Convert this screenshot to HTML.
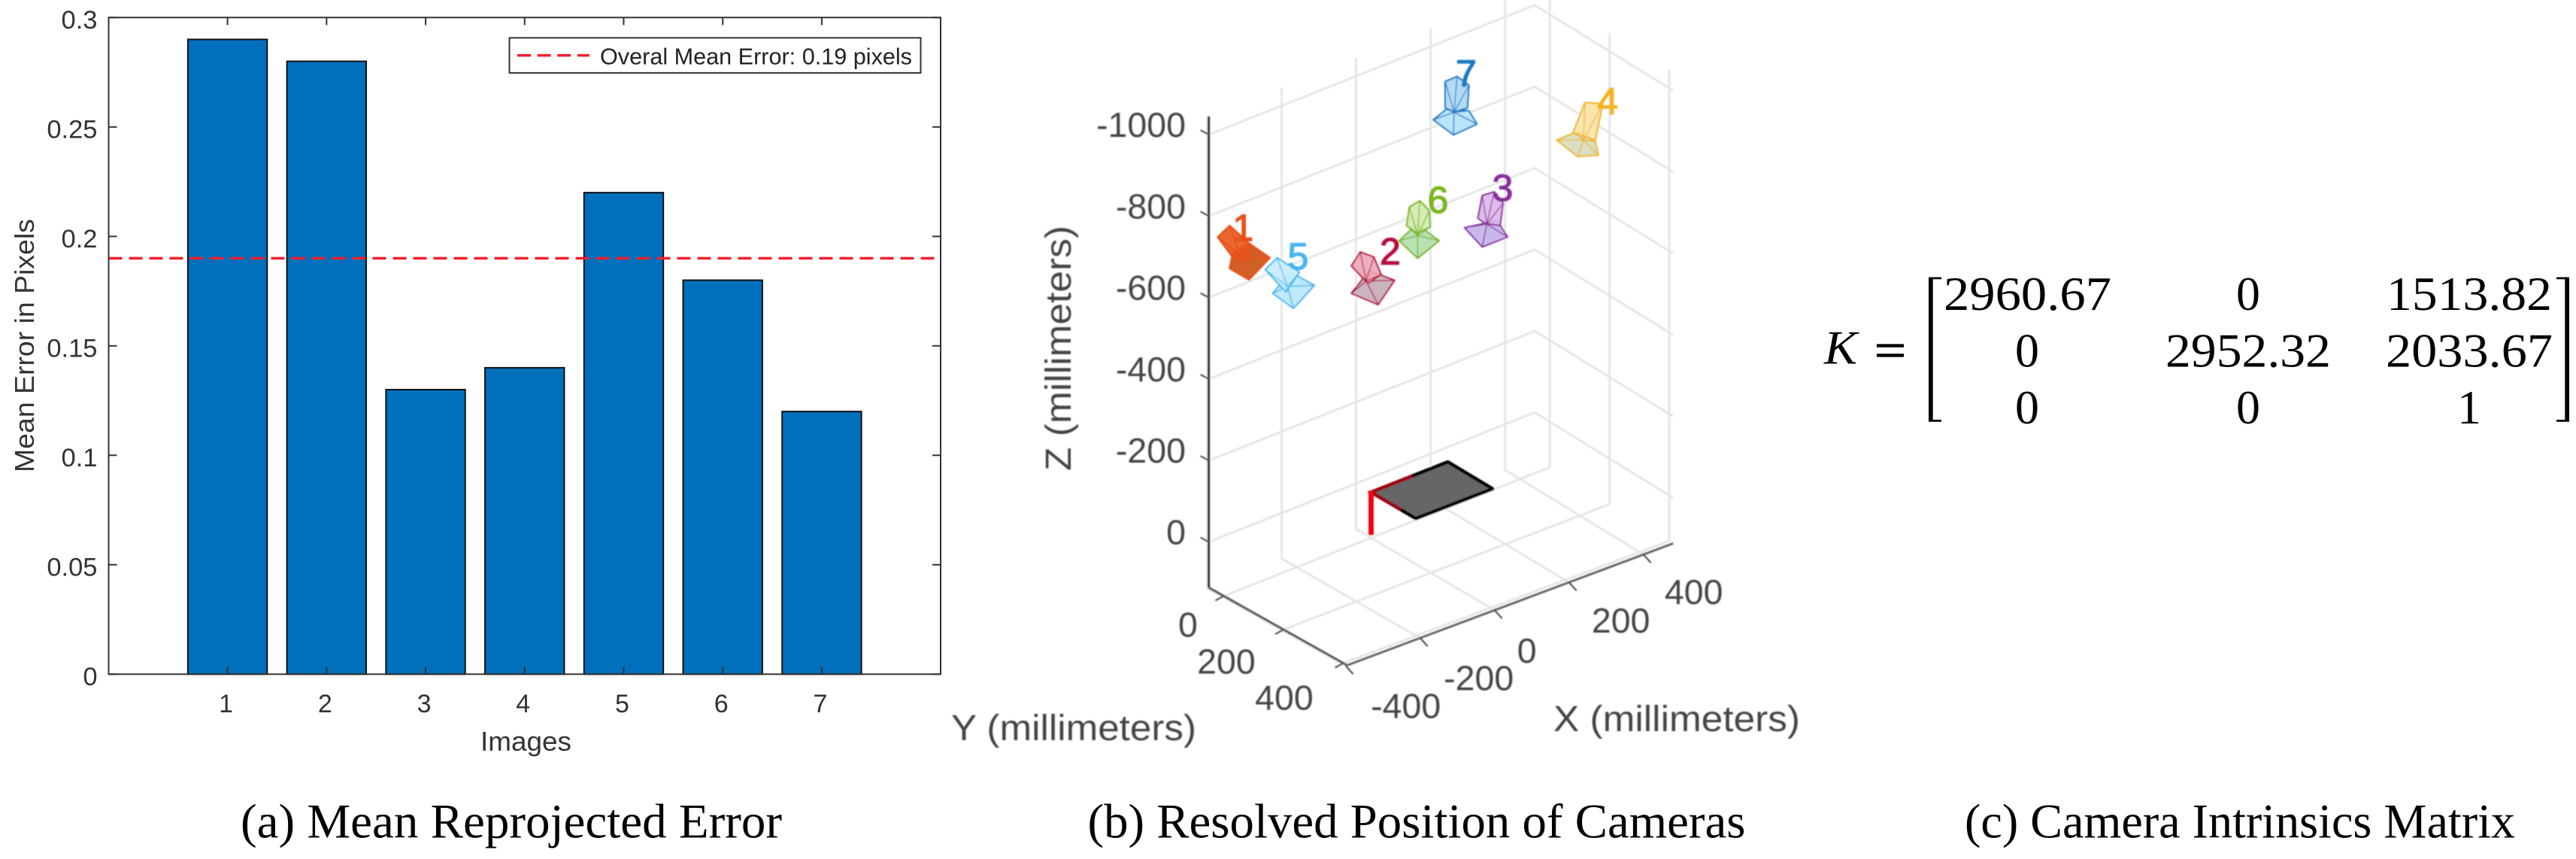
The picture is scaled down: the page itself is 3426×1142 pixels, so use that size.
<!DOCTYPE html>
<html lang="en">
<head>
<meta charset="utf-8">
<title>Camera calibration results</title>
<style>
html,body{margin:0;padding:0;background:#fff;}
body{width:3426px;height:1142px;overflow:hidden;}
svg{display:block;}
.sans{font-family:"Liberation Sans",Arial,sans-serif;}
.serif{font-family:"Liberation Serif","Times New Roman",serif;}
</style>
</head>
<body>
<svg id="figure" xmlns="http://www.w3.org/2000/svg" width="3426" height="1142" viewBox="0 0 3426 1142">
  <defs>
    <filter id="soft" filterUnits="userSpaceOnUse" x="1200" y="0" width="1300" height="1060"><feGaussianBlur stdDeviation="0.8"/></filter>
  </defs>
  <rect width="3426" height="1142" fill="#fff"/>
  <g id="bar-chart"></g>
  <g id="camera-chart" filter="url(#soft)"></g>

  <g class="serif" fill="#000" font-size="64">
    <text x="2426" y="483.5" font-style="italic" textLength="44" lengthAdjust="spacingAndGlyphs">K</text>
    <text x="2493" y="487" stroke="#000" stroke-width="1.2" textLength="42" lengthAdjust="spacingAndGlyphs">=</text>
    <path d="M2565 368.5H2582V371.2H2570.7V558H2582V560.8H2565Z" fill="#000"/>
    <path d="M3417 368.5H3400V371.2H3411.3V558H3400V560.8H3417Z" fill="#000"/>
    <text x="2585" y="412" textLength="223" lengthAdjust="spacingAndGlyphs">2960.67</text>
    <text x="2990" y="412" text-anchor="middle">0</text>
    <text x="3174" y="412" textLength="220" lengthAdjust="spacingAndGlyphs">1513.82</text>
    <text x="2696" y="487.5" text-anchor="middle">0</text>
    <text x="2880" y="487.5" textLength="220" lengthAdjust="spacingAndGlyphs">2952.32</text>
    <text x="3173" y="487.5" textLength="222" lengthAdjust="spacingAndGlyphs">2033.67</text>
    <text x="2696" y="563" text-anchor="middle">0</text>
    <text x="2990" y="563" text-anchor="middle">0</text>
    <text x="3284" y="563" text-anchor="middle">1</text>
  </g>

  <g class="serif" fill="#000" font-size="65">
    <text x="320" y="1113.5" textLength="720" lengthAdjust="spacingAndGlyphs">(a) Mean Reprojected Error</text>
    <text x="1446.5" y="1113.5" textLength="875" lengthAdjust="spacingAndGlyphs">(b) Resolved Position of Cameras</text>
    <text x="2613" y="1113.5" textLength="732" lengthAdjust="spacingAndGlyphs">(c) Camera Intrinsics Matrix</text>
  </g>
</svg>

<script>
// ---------- Bar chart data ----------
const imageCategories = ['1', '2', '3', '4', '5', '6', '7'];
const meanErrors = [0.29, 0.28, 0.13, 0.14, 0.22, 0.18, 0.12];
const overallMeanError = [0.19];
const errorTicks = [0, 0.05, 0.1, 0.15, 0.2, 0.25, 0.3];
const errorTickLabels = ['0', '0.05', '0.1', '0.15', '0.2', '0.25', '0.3'];

// ---------- 3D chart data (millimeters) ----------
const cameraLabels = ['1', '2', '3', '4', '5', '6', '7'];
const cameraX = [-344, -37.2, 266.7, 402, -260.6, 86.9, 182.8];
const cameraY = [0, 50, 50, 200, 50, 50, 50];
const cameraZ = [-710.6, -538.4, -561.9, -796.7, -627.6, -607.8, -869];
const xTicks3d = [-400, -200, 0, 200, 400];
const yTicks3d = [0, 200, 400];
const zTicks3d = [0, -200, -400, -600, -800, -1000];
const boardSizeX = [206];
const boardSizeY = [150];

const NS = 'http://www.w3.org/2000/svg';
function make(parent, tag, attrs, text) {
  const el = document.createElementNS(NS, tag);
  for (const k in attrs) el.setAttribute(k, attrs[k]);
  if (text !== undefined) el.textContent = text;
  parent.appendChild(el);
  return el;
}
function pts(list) { return list.map(p => p[0].toFixed(1) + ',' + p[1].toFixed(1)).join(' '); }

// ---------- Bar chart ----------
(function () {
  const root = document.getElementById('bar-chart');
  const L = 144.5, R = 1251, T = 23.3, B = 896.3;
  const xMin = -0.2, xMax = 8.2, yMin = 0, yMax = 0.3, barW = 0.8;
  const sx = v => L + (v - xMin) / (xMax - xMin) * (R - L);
  const sy = v => B - (v - yMin) / (yMax - yMin) * (B - T);

  meanErrors.forEach((v, i) => {
    const r = make(root, 'rect', {
      x: sx(i + 1 - barW / 2), y: sy(v),
      width: sx(barW) - sx(0), height: sy(0) - sy(v),
      fill: '#0070bd', stroke: '#111', 'stroke-width': 2
    });
    
    
  });

  const mean = make(root, 'line', {
    x1: L, x2: R, y1: sy(overallMeanError[0]), y2: sy(overallMeanError[0]),
    stroke: '#f3202e', 'stroke-width': 3.5, 'stroke-dasharray': '18 9'
  });
  
  

  const frame = make(root, 'rect', { x: L, y: T, width: R - L, height: B - T, fill: 'none', stroke: '#333', 'stroke-width': 2 });
  
  

  errorTicks.forEach((v, i) => {
    const y = sy(v);
    const t1 = make(root, 'line', { x1: L, x2: L + 11, y1: y, y2: y, stroke: '#333', 'stroke-width': 2 });
    
    
    const t2 = make(root, 'line', { x1: R - 11, x2: R, y1: y, y2: y, stroke: '#333', 'stroke-width': 2 });
    
    
    const lab = make(root, 'text', { x: 129.5, y: y + 14.5, 'text-anchor': 'end', class: 'sans', 'font-size': 34.5, fill: '#333' }, errorTickLabels[i]);
    
    
  });

  imageCategories.forEach((c, i) => {
    const x = sx(i + 1);
    const t1 = make(root, 'line', { x1: x, x2: x, y1: B, y2: B - 10, stroke: '#333', 'stroke-width': 2 });
    
    
    const t2 = make(root, 'line', { x1: x, x2: x, y1: T, y2: T + 10, stroke: '#333', 'stroke-width': 2 });
    
    
    const lab = make(root, 'text', { x: x - 2, y: 947, 'text-anchor': 'middle', class: 'sans', 'font-size': 34, fill: '#333' }, c);
    
    
  });

  const xt = make(root, 'text', { x: 639, y: 998, class: 'sans', 'font-size': 36, fill: '#333', textLength: 121, lengthAdjust: 'spacingAndGlyphs' }, 'Images');
  
  

  const yt = make(root, 'text', { transform: 'translate(45,628) rotate(-90)', class: 'sans', 'font-size': 36, fill: '#333', textLength: 337, lengthAdjust: 'spacingAndGlyphs' }, 'Mean Error in Pixels');
  
  

  const legend = make(root, 'g', {});
  
  
  const box = make(legend, 'rect', { x: 677.5, y: 50.3, width: 547, height: 46.6, fill: '#fff', stroke: '#333', 'stroke-width': 2 });
  
  
  const key = make(legend, 'line', { x1: 688, x2: 784, y1: 73.6, y2: 73.6, stroke: '#f3202e', 'stroke-width': 3.5, 'stroke-dasharray': '18 8.6' });
  
  
  const lt = make(legend, 'text', { x: 798, y: 85.5, class: 'sans', 'font-size': 31, fill: '#222', textLength: 415, lengthAdjust: 'spacingAndGlyphs' }, 'Overal Mean Error: 0.19 pixels');
  
  
})();

// ---------- 3D chart ----------
(function () {
  const root = document.getElementById('camera-chart');
  const xMin = -396, xMax = 480, yMin = -50, yMax = 413, zTop = -1045, zFloor = 112;
  const project = (x, y, z) => [
    1823.5 + 0.495 * x + 0.3975 * y,
    649.4 - 0.185 * x + 0.245 * y + 0.000025 * (xMax - x) * (yMax - y) + 0.5415 * z
  ];
  const poly = (parent, list, style) => make(parent, 'polyline', Object.assign({ points: pts(list), fill: 'none' }, style));

  const grid = make(root, 'g', { stroke: '#e4e4e4', 'stroke-width': 2.8, fill: 'none' });
  
  
  zTicks3d.forEach(z => {
    const g = poly(grid, [project(xMin, yMin, z), project(xMax, yMin, z), project(xMax, yMax, z)], {});
    
    
  });
  yTicks3d.forEach(y => {
    const g = poly(grid, [project(xMin, y, zFloor), project(xMax, y, zFloor), project(xMax, y, zTop)], {});
    
    
  });
  xTicks3d.forEach(x => {
    const g = poly(grid, [project(x, yMax, zFloor), project(x, yMin, zFloor), project(x, yMin, zTop)], {});
    
    
  });

  // axes
  const zAxis = poly(root, [project(xMin, yMin, zTop), project(xMin, yMin, zFloor)], { stroke: '#2a2a2a', 'stroke-width': 3 });
  
  
  const yAxis = poly(root, [project(xMin, yMin, zFloor), project(xMin, yMax, zFloor)], { stroke: '#555', 'stroke-width': 3 });
  
  
  const xAxis = poly(root, [project(xMin, yMax, zFloor), project(xMax, yMax, zFloor)], { stroke: '#666', 'stroke-width': 3 });
  
  

  const tickFont = { class: 'sans', 'font-size': 46.5, fill: '#444', 'text-anchor': 'middle' };
  const yLabelNudge = y => (y === 0 ? [-47.5, 54] : y === 200 ? [-76, 58.5] : [-78.5, 62]);
  const xLabelNudge = x => (x === -400 ? [80, 69.5] : x === -200 ? [78, 69.5] : x === 0 ? [43, 70] : x === 200 ? [69, 67] : [67, 66]);

  zTicks3d.forEach(z => {
    const p = project(xMin, yMin, z);
    const t = poly(root, [p, [p[0] - 11, p[1] - 6]], { stroke: '#444', 'stroke-width': 2 });
    
    
    const lab = make(root, 'text', { x: 1577, y: p[1] + 3, class: 'sans', 'font-size': 46.5, fill: '#444', 'text-anchor': 'end' }, String(z));
    
    
  });
  yTicks3d.forEach(y => {
    const p = project(xMin, y, zFloor);
    const t = poly(root, [p, [p[0] - 11, p[1] + 6]], { stroke: '#444', 'stroke-width': 2 });
    
    
    const n = yLabelNudge(y);
    const lab = make(root, 'text', Object.assign({ x: p[0] + n[0], y: p[1] + n[1] }, tickFont), String(y));
    
    
  });
  xTicks3d.forEach(x => {
    const p = project(x, yMax, zFloor);
    const t = poly(root, [p, [p[0] + 10, p[1] + 11]], { stroke: '#444', 'stroke-width': 2 });
    
    
    const n = xLabelNudge(x);
    const lab = make(root, 'text', Object.assign({ x: p[0] + n[0], y: p[1] + n[1] }, tickFont), String(x));
    
    
  });

  const t1 = make(root, 'text', { x: 1265, y: 984, class: 'sans', 'font-size': 48, fill: '#444', textLength: 326, lengthAdjust: 'spacingAndGlyphs' }, 'Y (millimeters)');
  
  
  const t2 = make(root, 'text', { x: 2066, y: 972, class: 'sans', 'font-size': 48, fill: '#444', textLength: 328, lengthAdjust: 'spacingAndGlyphs' }, 'X (millimeters)');
  
  
  const t3 = make(root, 'text', { transform: 'translate(1424,626) rotate(-90)', class: 'sans', 'font-size': 48, fill: '#444', textLength: 326, lengthAdjust: 'spacingAndGlyphs' }, 'Z (millimeters)');
  
  

  // calibration board at the origin
  const bx = boardSizeX[0], by = boardSizeY[0];
  const board = make(root, 'polygon', {
    points: pts([project(0, 0, 0), project(bx, 0, 0), project(bx, by, 0), project(0, by, 0)]),
    fill: '#666', stroke: '#000', 'stroke-width': 4.5, 'stroke-linejoin': 'round'
  });
  
  
  const ax = poly(root, [project(110, 0, 0), project(0, 0, 0), project(0, 100, 0)], { stroke: '#a00010', 'stroke-width': 4.5 });
  
  
  const az = poly(root, [project(0, 0, -4), project(0, 0, 105)], { stroke: '#f0000f', 'stroke-width': 7 });
  
  

  // camera glyph shape (pixel offsets from the projected camera position) and colours
  function cameraGlyph(i) {
    return [
      { c: '#e8501a', bf: '#e8561a', cf: '#cf6028', sw: 2.5, lx: 0, ly: -17,
        body: [[-33.6,-21.7],[-17.8,-36.7],[7.9,-13.3],[8,10],[-13.8,5]], base: [[-13.8,0],[7.9,-13.3],[35.6,6],[7.9,35],[-17.8,20]], apex: [-4,2] },
      { c: '#b5103c', bf: '#eda6b8', cf: '#c9b4c0', sw: 2, lx: 24, ly: -30,
        body: [[-27.7,-28.3],[-15.8,-46.7],[2,-40],[11.9,-16.7],[-5.9,-5]], base: [[-27.7,8.3],[-4,-21.7],[29.7,-9],[7.9,23.3]], apex: [-8,-8] },
      { c: '#8a2f9e', bf: '#dcb6ea', cf: '#c8b8ea', sw: 2, lx: 23, ly: -43,
        body: [[-9.9,-20],[-4,-50],[11.9,-55],[23.7,-40],[19.8,-10],[0,-12.7]], base: [[-27.7,-7.3],[15.8,-16.7],[29.7,5],[-4,18.3]], apex: [2,-12] },
      { c: '#f0b41e', bf: '#fce2a4', cf: '#d9e0c2', sw: 2, lx: 36, ly: -41,
        body: [[5.9,-56.7],[29.7,-55],[19.8,-6.7],[-9.9,-16.7]], base: [[-31.6,-6.7],[-4,-18.3],[19.8,-5],[23.7,13.3],[-4,15]], apex: [4,-6.7] },
      { c: '#45b6ee', bf: '#c6edfd', cf: '#bfeafc', sw: 2, lx: 12, ly: -18.7,
        body: [[-31.6,-18.3],[-15.8,-34],[13.8,-15],[-4,11.7]], base: [[-21.7,13.3],[2,-15],[33.6,2.7],[5.9,33.3]], apex: [-2,4] },
      { c: '#7ab51d', bf: '#d2eaac', cf: '#b8e2b4', sw: 2, lx: 26, ly: -37,
        body: [[-15.8,-20],[-11.9,-45],[2,-53],[14.6,-40],[15.8,-18],[-2,-10]], base: [[-25.7,0],[-2,-21.7],[27.7,0],[-1,23.3]], apex: [-1,-7] },
      { c: '#1a78c2', bf: '#aad6f2', cf: '#b9e5fb', sw: 2, lx: 16, ly: -45,
        body: [[-11.9,-51.7],[4,-58.3],[19.8,-46.7],[17.8,-16.7],[0,-10.7],[-11.9,-16.7]], base: [[-27.7,-.7],[-9.9,-15],[19.8,-12.7],[30.4,5],[-.8,19.3]], apex: [0,-10.7] }
    ][i];
  }

  const camLayer = make(root, 'g', {});
  
  
  cameraLabels.forEach((label, i) => {
    const g = cameraGlyph(i);
    const o = project(cameraX[i], cameraY[i], cameraZ[i]);
    const off = list => list.map(p => [o[0] + p[0], o[1] + p[1]]);
    const cam = make(camLayer, 'g', { stroke: g.c, 'stroke-width': g.sw, 'stroke-linejoin': 'round' });
    
    
    const base = make(cam, 'polygon', { points: pts(off(g.base)), fill: g.cf });
    
    
    const apex = off([g.apex])[0];
    off(g.base).forEach(p => {
      const ray = make(cam, 'line', { x1: p[0], y1: p[1], x2: apex[0], y2: apex[1], 'stroke-width': g.sw * 0.7 });
      
      
    });
    const body = make(cam, 'polygon', { points: pts(off(g.body)), fill: g.bf, 'fill-opacity': 0.9 });
    
    
    off(g.body).forEach(p => {
      const ray = make(cam, 'line', { x1: p[0], y1: p[1], x2: apex[0], y2: apex[1], 'stroke-width': g.sw * 0.6 });
      
      
    });
    const txt = make(camLayer, 'text', {
      x: o[0] + g.lx, y: o[1] + g.ly, class: 'sans', 'font-size': 50, 'text-anchor': 'middle',
      fill: g.c, stroke: g.c, 'stroke-width': 1.3
    }, label);
    
    
  });
})();
</script>
</body>
</html>
